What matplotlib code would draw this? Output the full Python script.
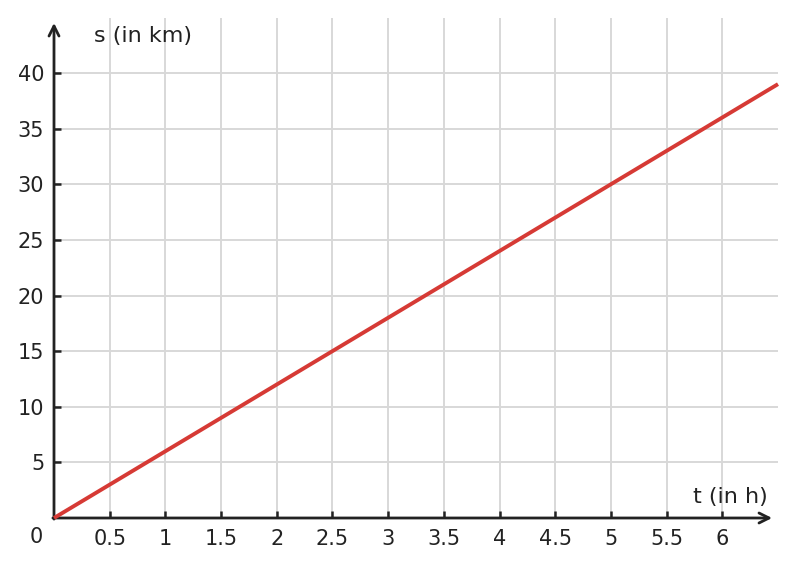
import numpy as np
import matplotlib
matplotlib.use("Agg")
import matplotlib.pyplot as plt

# ---------------- data ---------------------------------------------------------
t_hours = [0, 6.5]
s_km = [0, 39]
x_ticks = [0.5, 1, 1.5, 2, 2.5, 3, 3.5, 4, 4.5, 5, 5.5, 6]
x_tick_labels = ["0.5", "1", "1.5", "2", "2.5", "3", "3.5", "4", "4.5", "5", "5.5", "6"]
y_ticks = [5, 10, 15, 20, 25, 30, 35, 40]
y_tick_labels = ["5", "10", "15", "20", "25", "30", "35", "40"]

# ---------------- style --------------------------------------------------------
W, H = 795, 567
AXIS_COL = "#222222"
GRID_COL = "#d8d8d8"
LINE_COL = "#d63a35"
FS_TICK = 15
FS_LAB = 16

fig = plt.figure(figsize=(W / 100, H / 100), dpi=100)
# axes box in pixels: x0=54, x_right=778, y_bottom=518, y_top=18
ax = fig.add_axes([54 / W, (H - 518) / H, (778 - 54) / W, (518 - 18) / H])
ax.set_xlim(0, 6.5)
ax.set_ylim(0, 500 / 11.125)

for sp in ax.spines.values():
    sp.set_visible(False)

ax.set_xticks(x_ticks)
ax.set_xticklabels(x_tick_labels)
ax.set_yticks(y_ticks)
ax.set_yticklabels(y_tick_labels)
ax.tick_params(direction="in", length=5, width=1.8, color=AXIS_COL,
               labelsize=FS_TICK, labelcolor=AXIS_COL)
ax.tick_params(axis="x", pad=8)
ax.tick_params(axis="y", pad=7)
ax.grid(True, color=GRID_COL, linewidth=1.4)
ax.set_axisbelow(True)

# line
ax.plot(t_hours, s_km, color=LINE_COL, linewidth=2.8, solid_capstyle="butt",
        zorder=5, clip_on=False)

# axes with arrows
arrow = dict(arrowstyle="->", color=AXIS_COL, lw=2, mutation_scale=18,
             shrinkA=0, shrinkB=0)
ax.annotate("", xy=(6.447, 0), xytext=(-0.01, 0), arrowprops=arrow,
            annotation_clip=False, zorder=4)
ax.annotate("", xy=(0, 44.5), xytext=(0, -0.1), arrowprops=arrow,
            annotation_clip=False, zorder=4)

# labels
ax.text(-0.155, -1.7, "0", fontsize=FS_TICK, color=AXIS_COL, ha="center",
        va="center", clip_on=False)
ax.text(0.36, 43.3, "s (in km)", fontsize=FS_LAB, color=AXIS_COL, ha="left",
        va="center")
ax.text(6.41, 1.85, "t (in h)", fontsize=FS_LAB, color=AXIS_COL, ha="right",
        va="center")

fig.savefig("out.png", dpi=100)
